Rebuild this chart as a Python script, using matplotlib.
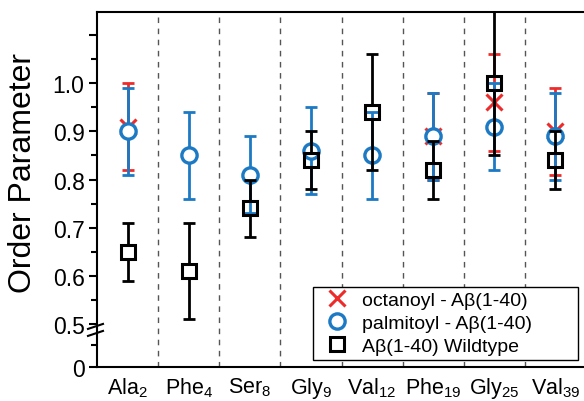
import matplotlib
matplotlib.use("Agg")
import matplotlib.pyplot as plt
import numpy as np

plt.rcParams['font.family'] = ['Liberation Sans', 'DejaVu Sans']
plt.rcParams['mathtext.fontset'] = 'custom'
plt.rcParams['mathtext.rm'] = 'Liberation Sans'
plt.rcParams['mathtext.it'] = 'Liberation Sans:italic'

residues = ['Ala', 'Phe', 'Ser', 'Gly', 'Val', 'Phe', 'Gly', 'Val']
positions = ['2', '4', '8', '9', '12', '19', '25', '39']

# order parameter values and errors
octanoyl = [0.91, np.nan, np.nan, np.nan, np.nan, 0.89, 0.96, 0.90]
octanoyl_err = [0.09, 0, 0, 0, 0, 0.09, 0.10, 0.09]
palmitoyl = [0.90, 0.85, 0.81, 0.86, 0.85, 0.89, 0.91, 0.89]
palmitoyl_err = [0.09, 0.09, 0.08, 0.09, 0.09, 0.09, 0.09, 0.09]
wildtype = [0.65, 0.61, 0.74, 0.84, 0.94, 0.82, 1.00, 0.84]
wildtype_err = [0.06, 0.10, 0.06, 0.06, 0.12, 0.06, 0.15, 0.06]

red = '#ee2b2b'
blue = '#1c7ac4'

K = 0.179  # compression of 0..0.5 segment


def fwd(y):
    y = np.asarray(y, dtype=float)
    return np.where(y >= 0.5, y, 0.5 - (0.5 - y) * K)


def inv(z):
    z = np.asarray(z, dtype=float)
    return np.where(z >= 0.5, z, 0.5 - (0.5 - z) / K)


fig = plt.figure(figsize=(5.84, 4.02), dpi=100)
ax = fig.add_axes([97 / 584, 34 / 402, 489 / 584, 355 / 402])
ax.set_yscale('function', functions=(fwd, inv))
ax.set_xlim(-0.5, 7.5)
ax.set_ylim(0, 1.148)

x = np.arange(len(residues))

for xv in x[:-1] + 0.5:
    ax.axvline(xv, color='#555555', lw=1, ls=(0, (4, 4)), zorder=1)

# octanoyl
ax.errorbar(x, octanoyl, yerr=octanoyl_err, fmt='none', ecolor=red,
            elinewidth=2, capsize=4, capthick=2, zorder=2)
ax.plot(x, octanoyl, 'x', color=red, ms=12, mew=2.2, zorder=3)

# palmitoyl
ax.errorbar(x, palmitoyl, yerr=palmitoyl_err, fmt='none', ecolor=blue,
            elinewidth=2, capsize=4, capthick=2, zorder=4)
ax.plot(x, palmitoyl, 'o', color=blue, mfc='white', ms=11, mew=2.4, zorder=5)

# wildtype, bar broken at the square
sq = 10.5
p0 = ax.transData.transform((0, 0.8))[1]
p1 = ax.transData.transform((0, 0.9))[1]
px_per_unit = (p1 - p0) / 0.1
half = (sq * 100 / 72 / 2) / px_per_unit
wt = np.array(wildtype)
wte = np.array(wildtype_err)
eb = ax.errorbar(x, wt, yerr=wte, fmt='none', ecolor='black',
                 elinewidth=2, capsize=4, capthick=2, zorder=6)
eb[2][0].set_visible(False)
ax.vlines(x, wt - wte, wt - half, color='black', lw=2, zorder=6)
ax.vlines(x, wt + half, wt + wte, color='black', lw=2, zorder=6)
ax.plot(x, wt, 's', color='black', mfc='none', ms=sq, mew=2.2, zorder=7)

# legend
h1, = ax.plot([], [], 'x', color=red, ms=12, mew=2.2)
h2, = ax.plot([], [], 'o', color=blue, mfc='white', ms=11, mew=2.4)
h3, = ax.plot([], [], 's', color='black', mfc='none', ms=sq, mew=2.2)
leg = ax.legend([h1, h2, h3],
                ['octanoyl - A\u03b2(1-40)', 'palmitoyl - A\u03b2(1-40)',
                 'A\u03b2(1-40) Wildtype'],
                loc='lower left', bbox_to_anchor=(0.4417, 0.0197, 0.542, 0.208),
                mode='expand', borderaxespad=0, fontsize=14, frameon=True,
                fancybox=False, handletextpad=0.25, labelspacing=0.28,
                borderpad=0.25, handlelength=2.0)
leg.get_frame().set_edgecolor('black')
leg.get_frame().set_linewidth(1)
leg.get_frame().set_alpha(1)
leg.set_zorder(10)

ax.set_xticks(x)
ax.set_xticklabels([r + r'$_\mathregular{' + p + '}$' for r, p in zip(residues, positions)],
                   fontsize=15.5)
ax.tick_params(axis='x', length=0, pad=6)

ax.set_yticks([0, 0.5, 0.6, 0.7, 0.8, 0.9, 1.0, 1.1])
ax.set_yticklabels(['0', '0.5', '0.6', '0.7', '0.8', '0.9', '1.0', ''], fontsize=16.5)
ax.set_yticks([0.25, 0.55, 0.65, 0.75, 0.85, 0.95, 1.05], minor=True)
ax.tick_params(axis='y', which='major', length=6, width=1.5, direction='out', pad=3)
ax.tick_params(axis='y', which='minor', length=4, width=1.5, direction='out')

ax.set_ylabel('Order Parameter', fontsize=23)
ax.yaxis.set_label_coords(-0.12, 0.55)

for s in ['left', 'bottom', 'top']:
    ax.spines[s].set_linewidth(1.5)
ax.spines['right'].set_visible(False)

# axis break marks
yb = ax.transData.transform((0, 0.5))[1]
xl = ax.transAxes.transform((0, 0))[0]
for dy in (-3, -10):
    fig.lines.append(plt.Line2D([(xl - 9) / 584, (xl + 6) / 584],
                                [(yb + dy - 2) / 402, (yb + dy + 3) / 402],
                                transform=fig.transFigure, color='black', lw=1.5))

fig.savefig('out.png', dpi=100)
